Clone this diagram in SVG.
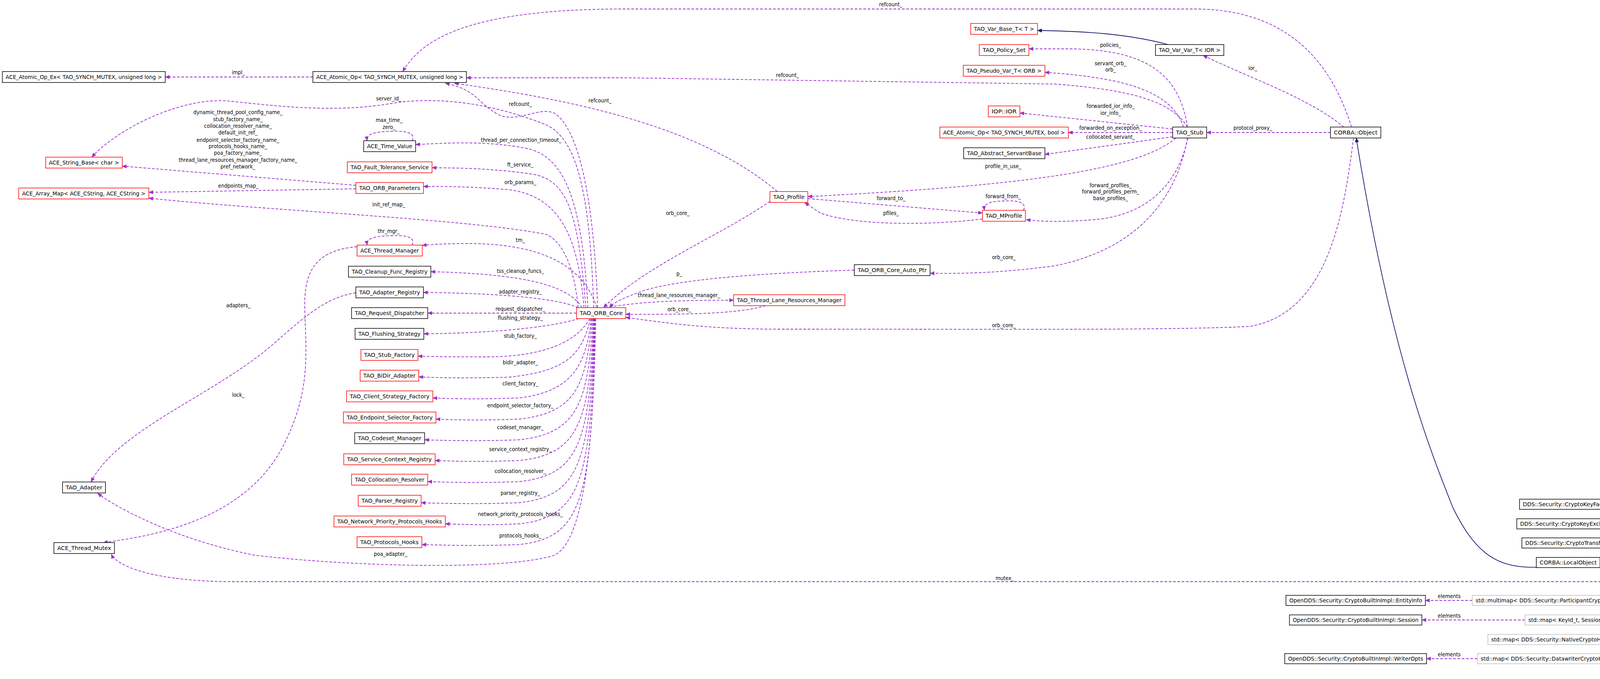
<svg xmlns="http://www.w3.org/2000/svg" width="4747" height="1737" viewBox="0 0 4747 1737">
<style>
.bg{fill:#fff}
.n rect{fill:#fff;stroke:#000;stroke-width:1.5}
.r rect{stroke:#ff0000}
.g rect{stroke:#bfbfbf}
.m rect{fill:#bfbfbf}
text{font-family:"DejaVu Sans Condensed","DejaVu Sans","Liberation Sans",sans-serif;font-size:14px;fill:#000}
.n text{text-anchor:middle}
.l{text-anchor:middle}
.e{fill:none;stroke:#9a32cd;stroke-width:1.8;stroke-dasharray:7,4;marker-end:url(#pa)}
.i{fill:none;stroke:#191970;stroke-width:1.8;marker-end:url(#na)}
</style>
<defs>
<marker id="pa" viewBox="0 0 12 10" refX="11" refY="5" markerWidth="12" markerHeight="10" markerUnits="userSpaceOnUse" orient="auto"><path d="M0,0L12,5L0,10z" fill="#9a32cd"/></marker>
<marker id="na" viewBox="0 0 12 10" refX="11" refY="5" markerWidth="12" markerHeight="10" markerUnits="userSpaceOnUse" orient="auto"><path d="M0,0L12,5L0,10z" fill="#191970"/></marker>
</defs>
<rect class="bg" width="4747" height="1737"/>
<g id="edges">
<path class="e" d="M801,197L423,197"/>
<path class="e" d="M3460,325C3420,200 3330,23 3058,23L1600,23C1200,23 1080,100 1031,183"/>
<path class="e" d="M3040,325C3000,260 2900,230 2700,215L1600,199L1194,199"/>
<path class="e" d="M1990,490C1800,330 1500,260 1163,213"/>
<path class="e" d="M1530,787C1520,500 1480,330 1420,290C1380,270 1320,320 1270,290C1220,260 1220,230 1140,213"/>
<path class="e" d="M1520,787C1510,500 1480,360 1400,320C1300,280 1150,240 1000,265C850,290 700,270 580,258C460,250 300,330 235,402"/>
<path class="e" d="M911,474L313,425"/>
<path class="e" d="M911,483L381,492"/>
<path class="e" d="M1480,787C1470,680 1440,620 1400,600C1200,560 700,540 381,507"/>
<path class="e" d="M1055,360C1065,340 1040,334 1000,336C960,337 937,342 940,360"/>
<path class="e" d="M1505,787C1490,500 1440,400 1350,380C1250,360 1150,365 1064,370"/>
<path class="e" d="M1500,787C1480,560 1460,460 1360,445C1250,430 1180,430 1106,429"/>
<path class="e" d="M1495,787C1480,600 1430,500 1300,485C1200,477 1150,477 1084,477"/>
<path class="e" d="M1528,787C1500,700 1420,625 1204,623C1150,623 1100,625 1081,628"/>
<path class="e" d="M1055,627C1065,607 1040,601 1000,603C960,604 937,609 940,627"/>
<path class="e" d="M914,631C820,640 780,680 780,780C782,900 800,1000 720,1150C620,1330 400,1370 265,1388"/>
<path class="e" d="M911,749C840,760 790,800 700,880C550,1010 300,1100 233,1233"/>
<path class="e" d="M1525,815C1520,1100 1500,1380 1420,1420C1300,1460 900,1450 650,1420C450,1380 300,1300 250,1262"/>
<path class="e" d="M1490,787C1450,720 1300,700 1103,695"/>
<path class="e" d="M1480,787C1420,760 1250,750 1084,748"/>
<path class="e" d="M1476,801L1095,801"/>
<path class="e" d="M1482,815C1400,840 1250,852 1085,854"/>
<path class="e" d="M1510,815C1480,870 1400,912 1250,913C1150,913 1100,912 1070,911"/>
<path class="e" d="M1512,815C1490,900 1460,950 1300,965C1180,968 1110,966 1072,964"/>
<path class="e" d="M1514,815C1500,930 1470,1000 1330,1018C1220,1022 1150,1020 1108,1018"/>
<path class="e" d="M1516,815C1500,980 1480,1055 1330,1072C1230,1076 1160,1074 1116,1072"/>
<path class="e" d="M1518,815C1505,1030 1480,1108 1330,1125C1230,1129 1140,1127 1087,1125"/>
<path class="e" d="M1520,815C1508,1080 1482,1162 1330,1178C1230,1182 1160,1180 1114,1178"/>
<path class="e" d="M1521,815C1510,1130 1484,1215 1330,1232C1230,1236 1150,1234 1095,1232"/>
<path class="e" d="M1522,815C1512,1180 1486,1268 1330,1286C1230,1290 1140,1288 1078,1286"/>
<path class="e" d="M1523,815C1514,1230 1488,1322 1330,1340C1250,1344 1190,1342 1140,1340"/>
<path class="e" d="M1524,815C1516,1280 1490,1375 1330,1393C1230,1397 1140,1395 1080,1393"/>
<path class="e" d="M1550,787C1650,770 1750,768 1878,768"/>
<path class="e" d="M1960,782C1900,800 1800,805 1602,804"/>
<path class="e" d="M2187,691C1900,700 1700,720 1630,750C1590,765 1570,775 1560,787"/>
<path class="e" d="M3040,353C3010,520 2900,640 2700,680C2550,700 2450,700 2381,699"/>
<path class="e" d="M3465,353C3440,550 3400,800 3200,835C3000,845 2600,842 2000,842C1800,842 1700,825 1602,812"/>
<path class="e" d="M3406,339L3089,339"/>
<path class="e" d="M3440,325C3350,250 3200,200 3080,142"/>
<path class="i" d="M2990,114C2900,90 2800,80 2656,78"/>
<path class="e" d="M3040,325C3020,200 2950,130 2750,125L2634,125"/>
<path class="e" d="M3030,325C3000,240 2900,200 2675,185"/>
<path class="e" d="M3002,330L2611,289"/>
<path class="e" d="M3002,339L2735,339"/>
<path class="e" d="M3002,350L2675,395"/>
<path class="e" d="M3010,353C2900,450 2500,480 2068,503"/>
<path class="e" d="M3041,353C3020,450 2960,540 2820,560C2720,570 2660,566 2627,562"/>
<path class="e" d="M2068,508L2515,545"/>
<path class="e" d="M2515,560C2400,575 2200,580 2100,545L2060,518"/>
<path class="e" d="M2620,538C2630,518 2605,512 2570,514C2535,515 2518,520 2520,538"/>
<path class="e" d="M1971,515C1850,600 1650,680 1545,787"/>
<path class="i" d="M4582,1475C4520,1390 4420,1320 4142,1298"/>
<path class="i" d="M4575,1475C4520,1420 4400,1370 4146,1349"/>
<path class="i" d="M4548,1475C4480,1440 4350,1410 4133,1400"/>
<path class="i" d="M4482,1475L4096,1445"/>
<path class="i" d="M3933,1451C3820,1455 3770,1400 3720,1300C3660,1150 3560,900 3472,353"/>
<path class="e" d="M4462,1488L600,1488C400,1488 300,1450 285,1418"/>
<path class="e" d="M4565,1501C4500,1530 4400,1532 4260,1536"/>
<path class="e" d="M4580,1501C4520,1560 4350,1585 4125,1586"/>
<path class="e" d="M4590,1501C4530,1600 4400,1630 4220,1637"/>
<path class="e" d="M4600,1501C4570,1640 4450,1700 4172,1698"/>
<path class="e" d="M3769,1536L3649,1536"/>
<path class="e" d="M3904,1586L3640,1586"/>
<path class="e" d="M3782,1685L3652,1685"/>
</g>
<g id="labels">
<text class="l" x="610" y="190">impl_</text>
<text class="l" x="2280" y="16">refcount_</text>
<text class="l" x="2016" y="197">refcount_</text>
<text class="l" x="1536" y="262">refcount_</text>
<text class="l" x="1332" y="271">refcount_</text>
<text class="l" x="995" y="257">server_id_</text>
<text class="l" x="609" y="292">dynamic_thread_pool_config_name_</text>
<text class="l" x="609" y="310">stub_factory_name_</text>
<text class="l" x="609" y="327">collocation_resolver_name_</text>
<text class="l" x="609" y="344">default_init_ref_</text>
<text class="l" x="609" y="363">endpoint_selector_factory_name_</text>
<text class="l" x="609" y="379">protocols_hooks_name_</text>
<text class="l" x="609" y="396">poa_factory_name_</text>
<text class="l" x="609" y="414">thread_lane_resources_manager_factory_name_</text>
<text class="l" x="609" y="431">pref_network_</text>
<text class="l" x="996" y="312">max_time_</text>
<text class="l" x="996" y="330">zero_</text>
<text class="l" x="1334" y="363">thread_per_connection_timeout_</text>
<text class="l" x="1332" y="426">ft_service_</text>
<text class="l" x="1332" y="471">orb_params_</text>
<text class="l" x="610" y="480">endpoints_map_</text>
<text class="l" x="995" y="528">init_ref_map_</text>
<text class="l" x="995" y="596">thr_mgr_</text>
<text class="l" x="1332" y="619">tm_</text>
<text class="l" x="1332" y="698">tss_cleanup_funcs_</text>
<text class="l" x="1332" y="751">adapter_registry_</text>
<text class="l" x="1332" y="795">request_dispatcher_</text>
<text class="l" x="1332" y="818">flushing_strategy_</text>
<text class="l" x="1332" y="864">stub_factory_</text>
<text class="l" x="1332" y="932">bidir_adapter_</text>
<text class="l" x="1332" y="986">client_factory_</text>
<text class="l" x="1332" y="1042">endpoint_selector_factory_</text>
<text class="l" x="1332" y="1098">codeset_manager_</text>
<text class="l" x="1332" y="1154">service_context_registry_</text>
<text class="l" x="1332" y="1210">collocation_resolver_</text>
<text class="l" x="1332" y="1266">parser_registry_</text>
<text class="l" x="1332" y="1320">network_priority_protocols_hooks_</text>
<text class="l" x="1332" y="1375">protocols_hooks_</text>
<text class="l" x="1000" y="1422">poa_adapter_</text>
<text class="l" x="610" y="786">adapters_</text>
<text class="l" x="610" y="1015">lock_</text>
<text class="l" x="1739" y="705">p_</text>
<text class="l" x="1738" y="760">thread_lane_resources_manager_</text>
<text class="l" x="1739" y="796">orb_core_</text>
<text class="l" x="2570" y="663">orb_core_</text>
<text class="l" x="2570" y="837">orb_core_</text>
<text class="l" x="1735" y="550">orb_core_</text>
<text class="l" x="2843" y="120">policies_</text>
<text class="l" x="2843" y="167">servant_orb_</text>
<text class="l" x="2843" y="183">orb_</text>
<text class="l" x="3207" y="179">ior_</text>
<text class="l" x="2843" y="276">forwarded_ior_info_</text>
<text class="l" x="2843" y="294">ior_info_</text>
<text class="l" x="2843" y="332">forwarded_on_exception_</text>
<text class="l" x="2843" y="355">collocated_servant_</text>
<text class="l" x="3207" y="332">protocol_proxy_</text>
<text class="l" x="2568" y="430">profile_in_use_</text>
<text class="l" x="2843" y="479">forward_profiles_</text>
<text class="l" x="2843" y="495">forward_profiles_perm_</text>
<text class="l" x="2843" y="512">base_profiles_</text>
<text class="l" x="2281" y="512">forward_to_</text>
<text class="l" x="2568" y="507">forward_from_</text>
<text class="l" x="2281" y="550">pfiles_</text>
<text class="l" x="2572" y="1484">mutex_</text>
<text class="l" x="3710" y="1530">elements</text>
<text class="l" x="3710" y="1580">elements</text>
<text class="l" x="3710" y="1679">elements</text>
<text class="l" x="4359" y="1516">participant_to_entity_</text>
<text class="l" x="4359" y="1550">sessions_</text>
<text class="l" x="4359" y="1595">keys_</text>
<text class="l" x="4359" y="1649">writer_options_</text>
</g>
<g id="n1" class="n"><rect x="6" y="183" width="417" height="28"/><text x="214.5" y="202" textLength="400" lengthAdjust="spacingAndGlyphs">ACE_Atomic_Op_Ex&lt; TAO_SYNCH_MUTEX, unsigned long &gt;</text></g>
<g id="n2" class="n"><rect x="801" y="183" width="393" height="28"/><text x="997.5" y="202" textLength="376" lengthAdjust="spacingAndGlyphs">ACE_Atomic_Op&lt; TAO_SYNCH_MUTEX, unsigned long &gt;</text></g>
<g id="n3" class="n r"><rect x="117" y="402" width="196" height="28"/><text x="215" y="421" textLength="180" lengthAdjust="spacingAndGlyphs">ACE_String_Base&lt; char &gt;</text></g>
<g id="n4" class="n r"><rect x="48" y="481" width="333" height="28"/><text x="214.5" y="500" textLength="316" lengthAdjust="spacingAndGlyphs">ACE_Array_Map&lt; ACE_CString, ACE_CString &gt;</text></g>
<g id="n5" class="n"><rect x="931" y="360" width="133" height="28"/><text x="997.5" y="379" textLength="116" lengthAdjust="spacingAndGlyphs">ACE_Time_Value</text></g>
<g id="n6" class="n r"><rect x="889" y="414" width="217" height="28"/><text x="997.5" y="433" textLength="200" lengthAdjust="spacingAndGlyphs">TAO_Fault_Tolerance_Service</text></g>
<g id="n7" class="n r"><rect x="911" y="467" width="173" height="28"/><text x="997.5" y="486" textLength="156" lengthAdjust="spacingAndGlyphs">TAO_ORB_Parameters</text></g>
<g id="n8" class="n r"><rect x="914" y="627" width="167" height="28"/><text x="997.5" y="646" textLength="150" lengthAdjust="spacingAndGlyphs">ACE_Thread_Manager</text></g>
<g id="n9" class="n"><rect x="892" y="681" width="211" height="28"/><text x="997.5" y="700" textLength="194" lengthAdjust="spacingAndGlyphs">TAO_Cleanup_Func_Registry</text></g>
<g id="n10" class="n"><rect x="911" y="734" width="173" height="28"/><text x="997.5" y="753" textLength="156" lengthAdjust="spacingAndGlyphs">TAO_Adapter_Registry</text></g>
<g id="n11" class="n"><rect x="900" y="787" width="195" height="28"/><text x="997.5" y="806" textLength="178" lengthAdjust="spacingAndGlyphs">TAO_Request_Dispatcher</text></g>
<g id="n12" class="n"><rect x="909" y="840" width="176" height="28"/><text x="997" y="859" textLength="159" lengthAdjust="spacingAndGlyphs">TAO_Flushing_Strategy</text></g>
<g id="n13" class="n r"><rect x="924" y="894" width="146" height="28"/><text x="997" y="913" textLength="130" lengthAdjust="spacingAndGlyphs">TAO_Stub_Factory</text></g>
<g id="n14" class="n r"><rect x="922" y="947" width="150" height="28"/><text x="997" y="966" textLength="134" lengthAdjust="spacingAndGlyphs">TAO_BiDir_Adapter</text></g>
<g id="n15" class="n r"><rect x="887" y="1000" width="221" height="28"/><text x="997.5" y="1019" textLength="204" lengthAdjust="spacingAndGlyphs">TAO_Client_Strategy_Factory</text></g>
<g id="n16" class="n r"><rect x="879" y="1054" width="237" height="28"/><text x="997.5" y="1073" textLength="220" lengthAdjust="spacingAndGlyphs">TAO_Endpoint_Selector_Factory</text></g>
<g id="n17" class="n"><rect x="908" y="1107" width="179" height="28"/><text x="997.5" y="1126" textLength="162" lengthAdjust="spacingAndGlyphs">TAO_Codeset_Manager</text></g>
<g id="n18" class="n r"><rect x="880" y="1161" width="234" height="28"/><text x="997" y="1180" textLength="217" lengthAdjust="spacingAndGlyphs">TAO_Service_Context_Registry</text></g>
<g id="n19" class="n r"><rect x="900" y="1213" width="195" height="28"/><text x="997.5" y="1232" textLength="178" lengthAdjust="spacingAndGlyphs">TAO_Collocation_Resolver</text></g>
<g id="n20" class="n r"><rect x="917" y="1267" width="161" height="28"/><text x="997.5" y="1286" textLength="144" lengthAdjust="spacingAndGlyphs">TAO_Parser_Registry</text></g>
<g id="n21" class="n r"><rect x="855" y="1320" width="285" height="28"/><text x="997.5" y="1339" textLength="268" lengthAdjust="spacingAndGlyphs">TAO_Network_Priority_Protocols_Hooks</text></g>
<g id="n22" class="n r"><rect x="914" y="1373" width="166" height="28"/><text x="997" y="1392" textLength="149" lengthAdjust="spacingAndGlyphs">TAO_Protocols_Hooks</text></g>
<g id="n23" class="n"><rect x="160" y="1233" width="110" height="28"/><text x="215" y="1252" textLength="94" lengthAdjust="spacingAndGlyphs">TAO_Adapter</text></g>
<g id="n24" class="n"><rect x="138" y="1388" width="155" height="28"/><text x="215.5" y="1407" textLength="138" lengthAdjust="spacingAndGlyphs">ACE_Thread_Mutex</text></g>
<g id="n25" class="n r"><rect x="1476" y="787" width="126" height="28"/><text x="1539" y="806" textLength="110" lengthAdjust="spacingAndGlyphs">TAO_ORB_Core</text></g>
<g id="n26" class="n r"><rect x="1878" y="754" width="285" height="28"/><text x="2020.5" y="773" textLength="268" lengthAdjust="spacingAndGlyphs">TAO_Thread_Lane_Resources_Manager</text></g>
<g id="n27" class="n"><rect x="2187" y="677" width="194" height="28"/><text x="2284" y="696" textLength="177" lengthAdjust="spacingAndGlyphs">TAO_ORB_Core_Auto_Ptr</text></g>
<g id="n28" class="n r"><rect x="1971" y="490" width="97" height="28"/><text x="2019.5" y="509" textLength="80" lengthAdjust="spacingAndGlyphs">TAO_Profile</text></g>
<g id="n29" class="n r"><rect x="2515" y="538" width="110" height="28"/><text x="2570" y="557" textLength="94" lengthAdjust="spacingAndGlyphs">TAO_MProfile</text></g>
<g id="n30" class="n r"><rect x="2485" y="60" width="171" height="28"/><text x="2570.5" y="79" textLength="154" lengthAdjust="spacingAndGlyphs">TAO_Var_Base_T&lt; T &gt;</text></g>
<g id="n31" class="n r"><rect x="2507" y="114" width="127" height="28"/><text x="2570.5" y="133" textLength="110" lengthAdjust="spacingAndGlyphs">TAO_Policy_Set</text></g>
<g id="n32" class="n"><rect x="2958" y="114" width="175" height="28"/><text x="3045.5" y="133" textLength="158" lengthAdjust="spacingAndGlyphs">TAO_Var_Var_T&lt; IOR &gt;</text></g>
<g id="n33" class="n r"><rect x="2466" y="167" width="209" height="28"/><text x="2570.5" y="186" textLength="192" lengthAdjust="spacingAndGlyphs">TAO_Pseudo_Var_T&lt; ORB &gt;</text></g>
<g id="n34" class="n r"><rect x="2530" y="271" width="81" height="28"/><text x="2570.5" y="290" textLength="64" lengthAdjust="spacingAndGlyphs">IOP::IOR</text></g>
<g id="n35" class="n r"><rect x="2406" y="325" width="329" height="28"/><text x="2570.5" y="344" textLength="312" lengthAdjust="spacingAndGlyphs">ACE_Atomic_Op&lt; TAO_SYNCH_MUTEX, bool &gt;</text></g>
<g id="n36" class="n"><rect x="2467" y="378" width="208" height="28"/><text x="2571" y="397" textLength="191" lengthAdjust="spacingAndGlyphs">TAO_Abstract_ServantBase</text></g>
<g id="n37" class="n"><rect x="3002" y="325" width="87" height="28"/><text x="3045.5" y="344" textLength="70" lengthAdjust="spacingAndGlyphs">TAO_Stub</text></g>
<g id="n38" class="n"><rect x="3406" y="325" width="129" height="28"/><text x="3470.5" y="344" textLength="112" lengthAdjust="spacingAndGlyphs">CORBA::Object</text></g>
<g id="n39" class="n"><rect x="3890" y="1277" width="249" height="26"/><text x="4014.5" y="1295" textLength="232" lengthAdjust="spacingAndGlyphs">DDS::Security::CryptoKeyFactory</text></g>
<g id="n40" class="n"><rect x="3883" y="1327" width="263" height="26"/><text x="4014.5" y="1345" textLength="246" lengthAdjust="spacingAndGlyphs">DDS::Security::CryptoKeyExchange</text></g>
<g id="n41" class="n"><rect x="3896" y="1376" width="237" height="26"/><text x="4014.5" y="1394" textLength="220" lengthAdjust="spacingAndGlyphs">DDS::Security::CryptoTransform</text></g>
<g id="n42" class="n"><rect x="3933" y="1426" width="163" height="26"/><text x="4014.5" y="1444" textLength="146" lengthAdjust="spacingAndGlyphs">CORBA::LocalObject</text></g>
<g id="n43" class="n m"><rect x="4462" y="1475" width="280" height="26"/><text x="4602" y="1493" textLength="263" lengthAdjust="spacingAndGlyphs">OpenDDS::Security::CryptoBuiltInImpl</text></g>
<g id="n44" class="n"><rect x="3292" y="1523" width="357" height="26"/><text x="3470.5" y="1541" textLength="340" lengthAdjust="spacingAndGlyphs">OpenDDS::Security::CryptoBuiltInImpl::EntityInfo</text></g>
<g id="n45" class="n g"><rect x="3769" y="1523" width="491" height="26"/><text x="4014.5" y="1541" textLength="474" lengthAdjust="spacingAndGlyphs">std::multimap&lt; DDS::Security::ParticipantCryptoHandle, EntityInfo &gt;</text></g>
<g id="n46" class="n"><rect x="3301" y="1573" width="339" height="26"/><text x="3470.5" y="1591" textLength="322" lengthAdjust="spacingAndGlyphs">OpenDDS::Security::CryptoBuiltInImpl::Session</text></g>
<g id="n47" class="n g"><rect x="3904" y="1573" width="221" height="26"/><text x="4014.5" y="1591" textLength="204" lengthAdjust="spacingAndGlyphs">std::map&lt; KeyId_t, Session &gt;</text></g>
<g id="n48" class="n g"><rect x="3809" y="1623" width="411" height="26"/><text x="4014.5" y="1641" textLength="394" lengthAdjust="spacingAndGlyphs">std::map&lt; DDS::Security::NativeCryptoHandle, KeySeq &gt;</text></g>
<g id="n49" class="n"><rect x="3289" y="1672" width="363" height="26"/><text x="3470.5" y="1690" textLength="346" lengthAdjust="spacingAndGlyphs">OpenDDS::Security::CryptoBuiltInImpl::WriterOpts</text></g>
<g id="n50" class="n g"><rect x="3782" y="1672" width="466" height="26"/><text x="4015" y="1690" textLength="449" lengthAdjust="spacingAndGlyphs">std::map&lt; DDS::Security::DatawriterCryptoHandle, WriterOpts &gt;</text></g>
</svg>
